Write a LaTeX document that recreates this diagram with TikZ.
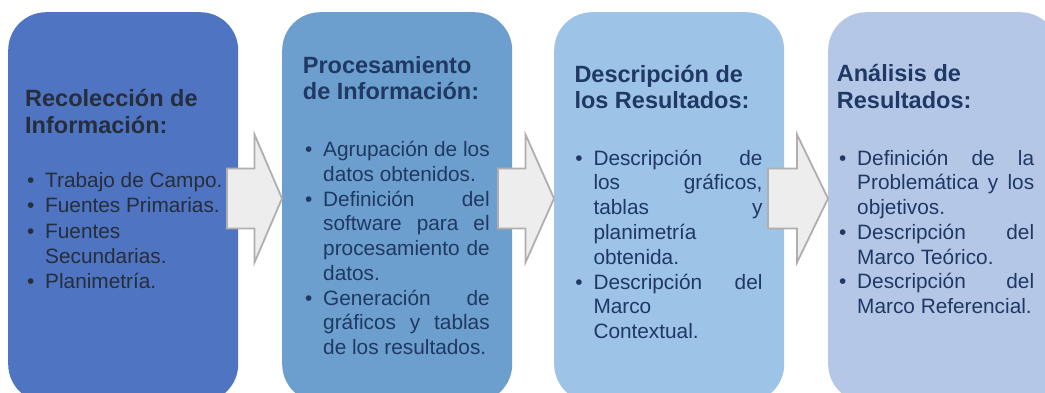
\documentclass[tikz,border=0pt]{standalone}
\usepackage{fontspec}
\setmainfont{Liberation Sans}
\definecolor{bxA}{HTML}{4E74C2}
\definecolor{bxB}{HTML}{6C9FCD}
\definecolor{bxC}{HTML}{9DC3E6}
\definecolor{bxD}{HTML}{B4C7E7}
\definecolor{txA}{HTML}{262D3B}
\definecolor{txB}{HTML}{1F3864}
\definecolor{arF}{HTML}{EDEDED}
\definecolor{arS}{HTML}{B1AEAE}
\newlength{\tw}
\newcommand{\bu}{\llap{\makebox[0pt]{\fontsize{20.8}{20.8}\selectfont •}\hspace{14.5pt}}}
\newcommand{\li}[1]{\hbox{#1}}
\newcommand{\lj}[1]{\hbox to \tw{#1}}
\newcommand{\blk}[2]{\vtop{\fontsize{20.8}{#1}\selectfont #2}}
\newcommand{\ttl}[2]{\vtop{\fontsize{23.5}{26.3}\selectfont\bfseries\hbox{#1}\hbox{#2}}}
\tikzset{
  boxst/.style={rounded corners=38pt, draw=none, anchor=north west, minimum width=230pt, minimum height=390pt, inner sep=0pt},
  txt/.style={anchor=base west, inner sep=0pt},
  blockarrow/.style={fill=arF, draw=arS, line width=1.8pt}
}
\begin{document}
\begin{tikzpicture}[x=1pt,y=-1pt]
\useasboundingbox (0,0) rectangle (1045,392);
\clip (0,0) rectangle (1045,392);
\fill[white] (0,0) rectangle (1045,392);
% boxes
\node[boxst, fill=bxA] (b1) at (8,12) {};
\node[boxst, fill=bxB] (b2) at (282,12) {};
\node[boxst, fill=bxC] (b3) at (554,12) {};
\node[boxst, fill=bxD] (b4) at (828,12) {};
% block arrows
\draw[blockarrow] (227,168.5) -- (254.5,168.5) -- (254.5,134.5) -- (282,198.5) -- (254.5,262.5) -- (254.5,228.5) -- (227,228.5) -- cycle;
\draw[blockarrow] (498,168.5) -- (525.5,168.5) -- (525.5,134.5) -- (554,198.5) -- (525.5,262.5) -- (525.5,228.5) -- (498,228.5) -- cycle;
\draw[blockarrow] (768,168.5) -- (797,168.5) -- (797,134.5) -- (828,198.5) -- (797,262.5) -- (797,228.5) -- (768,228.5) -- cycle;
% box 1
\node[txt, text=txA] (t1) at (25,106.7) {\ttl{Recolección de}{Información:}};
\node[txt, text=txA] (l1) at (45,187.7) {\blk{25.2}{%
\li{\bu Trabajo de Campo.}
\li{\bu Fuentes Primarias.}
\li{\bu Fuentes}
\li{Secundarias.}
\li{\bu Planimetría.}}};
% box 2
\node[txt, text=txB] (t2) at (302.7,73.3) {\ttl{Procesamiento}{de Información:}};
\setlength{\tw}{166.5pt}
\node[txt, text=txB] (l2) at (323,156.7) {\blk{24.75}{%
\lj{\bu Agrupación\hfill de\hfill los}
\li{datos obtenidos.}
\lj{\bu Definición\hfill del}
\lj{software\hfill para\hfill el}
\lj{procesamiento\hfill de}
\li{datos.}
\lj{\bu Generación\hfill de}
\lj{gráficos\hfill y\hfill tablas}
\li{de los resultados.}}};
% box 3
\node[txt, text=txB] (t3) at (574.3,82.5) {\ttl{Descripción de}{los Resultados:}};
\setlength{\tw}{169pt}
\node[txt, text=txB] (l3) at (593.3,165) {\blk{24.8}{%
\lj{\bu Descripción\hfill de}
\lj{los\hfill gráficos,}
\lj{tablas\hfill y}
\li{planimetría}
\li{obtenida.}
\lj{\bu Descripción\hfill del}
\li{Marco}
\li{Contextual.}}};
% box 4
\node[txt, text=txB] (t4) at (836.7,81.7) {\ttl{Análisis de}{Resultados:}};
\setlength{\tw}{177pt}
\node[txt, text=txB] (l4) at (857,165) {\blk{24.75}{%
\lj{\bu Definición\hfill de\hfill la}
\lj{Problemática\hfill y\hfill los}
\li{objetivos.}
\lj{\bu Descripción\hfill del}
\li{Marco Teórico.}
\lj{\bu Descripción\hfill del}
\li{Marco Referencial.}}};
\end{tikzpicture}
\end{document}
